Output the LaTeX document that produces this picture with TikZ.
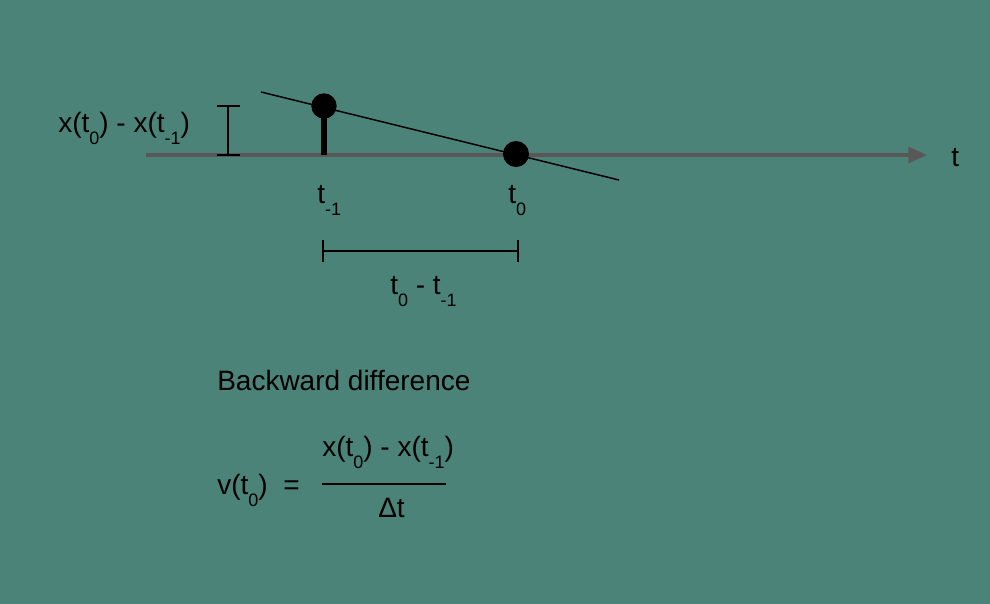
\documentclass[tikz,border=0pt]{standalone}
\usepackage{fontspec}
\setmainfont{Liberation Sans}
\usetikzlibrary{arrows.meta}
\definecolor{bg}{RGB}{76,131,121}
\definecolor{axisgray}{RGB}{88,88,88}
\newcommand\sbx[1]{\raisebox{-0.45em}{\fontsize{13.5}{14}\selectfont #1}}
\tikzset{
  lbl/.style={anchor=base west, inner sep=0pt, font=\fontsize{21}{25}\selectfont, text=black},
  dot/.style={circle, fill=black, inner sep=0pt, minimum size=#1},
  thin line/.style={black, line width=1.1pt},
}
\begin{document}
\begin{tikzpicture}[x=0.75pt,y=-0.75pt]
\fill[bg] (0,0) rectangle (990,604);
\useasboundingbox (0,0) rectangle (990,604);
% axis
\coordinate (axL) at (146,155);
\coordinate (axR) at (927,155);
\draw[axisgray, line width=2.3pt, -{Triangle[length=14pt,width=12pt]}] (axL) -- (axR);
% secant line
\coordinate (sA) at (261,92);
\coordinate (sB) at (619,180);
\draw[thin line] (sA) -- (sB);
% stem and dots
\coordinate (stemB) at (324,155);
\node[dot=19pt] (d1) at (324,106) {};
\draw[black, line width=3.8pt] (d1.center) -- (stemB);
\node[dot=19.5pt] (d0) at (516,154) {};
% vertical bracket
\coordinate (vbT) at (228,106);
\coordinate (vbB) at (228,155);
\coordinate (vbTl) at (217,106);
\coordinate (vbTr) at (240,106);
\coordinate (vbBl) at (217,155);
\coordinate (vbBr) at (240,155);
\draw[thin line] (vbT) -- (vbB);
\draw[thin line] (vbTl) -- (vbTr);
\draw[thin line] (vbBl) -- (vbBr);
% horizontal bracket
\coordinate (hbL) at (323,251);
\coordinate (hbR) at (518,251);
\coordinate (hbLt) at (323,240);
\coordinate (hbLb) at (323,262);
\coordinate (hbRt) at (518,240);
\coordinate (hbRb) at (518,262);
\draw[thin line] (hbL) -- (hbR);
\draw[thin line] (hbLt) -- (hbLb);
\draw[thin line] (hbRt) -- (hbRb);
% labels
\node[lbl] (dx) at (58,132) {x(t\sbx{0}) - x(t\sbx{-1})};
\node[lbl] (tax) at (951,166) {t};
\node[lbl] (tm1) at (317,203) {t\sbx{-1}};
\node[lbl] (t0) at (508,203) {t\sbx{0}};
\node[lbl] (dt) at (390,294) {t\sbx{0} - t\sbx{-1}};
\node[lbl] (bd) at (217,390) {Backward difference};
\node[lbl] (v) at (217,494) {v(t\sbx{0})};
\node[lbl] (eq) at (283,494) {=};
\node[lbl] (num) at (322,456) {x(t\sbx{0}) - x(t\sbx{-1})};
\coordinate (fL) at (322,484);
\coordinate (fR) at (446,484);
\draw[black, line width=1pt] (fL) -- (fR);
\node[lbl] (den) at (378,517) {Δt};
\end{tikzpicture}
\end{document}
